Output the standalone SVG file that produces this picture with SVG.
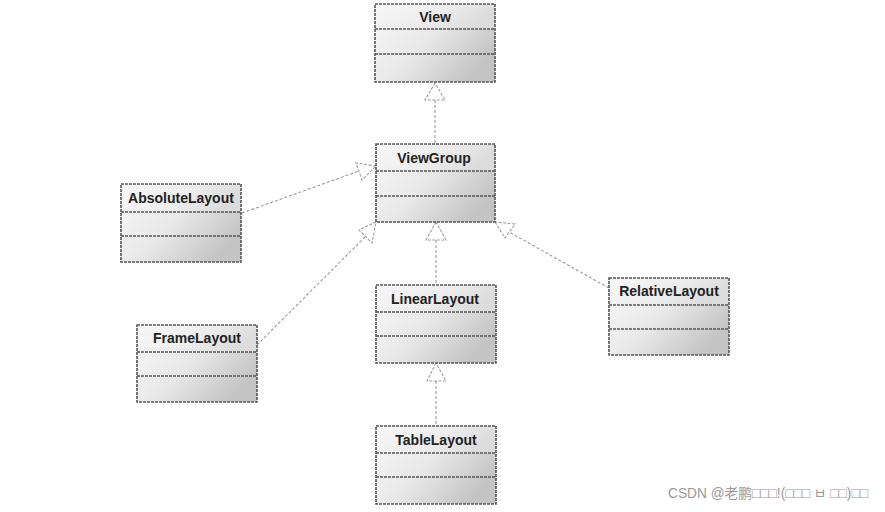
<svg xmlns="http://www.w3.org/2000/svg" width="885" height="512" viewBox="0 0 885 512">
<defs>
  <linearGradient id="gh" x1="0" y1="0" x2="1" y2="0.3">
    <stop offset="0" stop-color="#f7f7f7"/>
    <stop offset="0.6" stop-color="#ededed"/>
    <stop offset="1" stop-color="#dcdcdc"/>
  </linearGradient>
  <linearGradient id="gc" x1="0" y1="0" x2="1" y2="0.4">
    <stop offset="0" stop-color="#f4f4f4"/>
    <stop offset="0.45" stop-color="#e8e8e8"/>
    <stop offset="1" stop-color="#c4c4c4"/>
  </linearGradient>
</defs>
<style>
  .hd{fill:url(#gh)}
  .cp{fill:url(#gc)}
  .bx{fill:none;stroke:#555;stroke-width:1.6;stroke-dasharray:3 1}
  .dv{stroke:#555;stroke-width:1.6;stroke-dasharray:3 1}
  .t{font-family:"Liberation Sans",Arial,sans-serif;font-weight:bold;font-size:14px;fill:#222;text-anchor:middle}
  .ln{fill:none;stroke:#9a9a9a;stroke-width:1.1;stroke-dasharray:3 2}
  .ah{fill:#fff;stroke:#a0a0a0;stroke-width:1.1;stroke-dasharray:3 1.5}
  .wm{font-family:"Liberation Sans","Noto Sans CJK SC",sans-serif;font-size:14px;fill:#9a9a9a}
</style>
<rect width="885" height="512" fill="#fff"/>

<g id="connectors">
  <line class="ln" x1="435" y1="100" x2="435" y2="144"/>
  <polygon class="ah" points="435,83 425,100 445,100"/>
  <line class="ln" x1="436" y1="240" x2="436" y2="285"/>
  <polygon class="ah" points="436,222 426,240 446,240"/>
  <line class="ln" x1="436" y1="381" x2="436" y2="426"/>
  <polygon class="ah" points="436,363 427,381 446,381"/>
  <line class="ln" x1="242" y1="213" x2="359" y2="171"/>
  <polygon class="ah" points="376,166 356,163 362,180"/>
  <line class="ln" x1="257" y1="345" x2="366" y2="236"/>
  <polygon class="ah" points="376,222 359,230 372,243"/>
  <line class="ln" x1="609" y1="288" x2="509" y2="232"/>
  <polygon class="ah" points="495,222 505,238 515,224"/>
</g>

<g id="View">
  <rect class="hd" x="375" y="4" width="120" height="25"/>
  <rect class="cp" x="375" y="29" width="120" height="53"/>
  <line class="dv" x1="375" y1="29" x2="495" y2="29"/>
  <line class="dv" x1="375" y1="54" x2="495" y2="54"/>
  <rect class="bx" x="375" y="4" width="120" height="78"/>
  <text class="t" x="435" y="22">View</text>
</g>

<g id="ViewGroup">
  <rect class="hd" x="376" y="144" width="119" height="27"/>
  <rect class="cp" x="376" y="171" width="119" height="51"/>
  <line class="dv" x1="376" y1="171" x2="495" y2="171"/>
  <line class="dv" x1="376" y1="196" x2="495" y2="196"/>
  <rect class="bx" x="376" y="144" width="119" height="78"/>
  <text class="t" x="434" y="163">ViewGroup</text>
</g>

<g id="AbsoluteLayout">
  <rect class="hd" x="121" y="184" width="120" height="28"/>
  <rect class="cp" x="121" y="212" width="120" height="50"/>
  <line class="dv" x1="121" y1="212" x2="241" y2="212"/>
  <line class="dv" x1="121" y1="236" x2="241" y2="236"/>
  <rect class="bx" x="121" y="184" width="120" height="78"/>
  <text class="t" x="181" y="203">AbsoluteLayout</text>
</g>

<g id="FrameLayout">
  <rect class="hd" x="137" y="325" width="120" height="27"/>
  <rect class="cp" x="137" y="352" width="120" height="50"/>
  <line class="dv" x1="137" y1="352" x2="257" y2="352"/>
  <line class="dv" x1="137" y1="376" x2="257" y2="376"/>
  <rect class="bx" x="137" y="325" width="120" height="77"/>
  <text class="t" x="197" y="343">FrameLayout</text>
</g>

<g id="LinearLayout">
  <rect class="hd" x="376" y="285" width="120" height="27"/>
  <rect class="cp" x="376" y="312" width="120" height="51"/>
  <line class="dv" x1="376" y1="312" x2="496" y2="312"/>
  <line class="dv" x1="376" y1="336" x2="496" y2="336"/>
  <rect class="bx" x="376" y="285" width="120" height="78"/>
  <text class="t" x="435" y="304">LinearLayout</text>
</g>

<g id="TableLayout">
  <rect class="hd" x="376" y="426" width="120" height="27"/>
  <rect class="cp" x="376" y="453" width="120" height="51"/>
  <line class="dv" x1="376" y1="453" x2="496" y2="453"/>
  <line class="dv" x1="376" y1="477" x2="496" y2="477"/>
  <rect class="bx" x="376" y="426" width="120" height="78"/>
  <text class="t" x="436" y="445">TableLayout</text>
</g>

<g id="RelativeLayout">
  <rect class="hd" x="609" y="278" width="120" height="27"/>
  <rect class="cp" x="609" y="305" width="120" height="50"/>
  <line class="dv" x1="609" y1="305" x2="729" y2="305"/>
  <line class="dv" x1="609" y1="329" x2="729" y2="329"/>
  <rect class="bx" x="609" y="278" width="120" height="77"/>
  <text class="t" x="669" y="296">RelativeLayout</text>
</g>

<text class="wm" x="668" y="498" textLength="200" lengthAdjust="spacingAndGlyphs">CSDN @老鹏□□□!(□□□ ㅂ □□)□□</text>
</svg>
